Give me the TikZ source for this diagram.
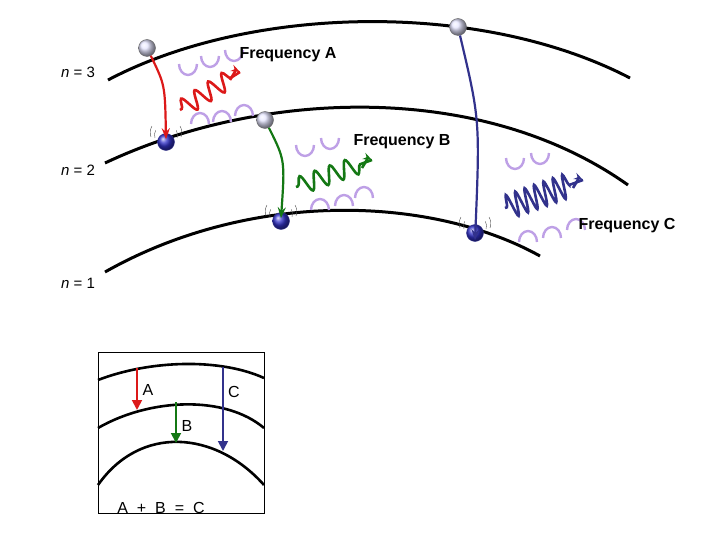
\documentclass[tikz,border=0pt]{standalone}
\usepackage{fontspec}
\setmainfont{Liberation Sans}
\usetikzlibrary{decorations.pathmorphing,arrows.meta}
\definecolor{ared}{RGB}{220,25,25}
\definecolor{agreen}{RGB}{20,120,20}
\definecolor{ablue}{RGB}{50,50,140}
\definecolor{lilac}{RGB}{190,160,230}
\begin{document}
\begin{tikzpicture}[x=1pt,y=-1pt,
  orbit/.style={line width=3pt,black},
  exc/.style={circle,draw=gray!80!black,thin,inner sep=0pt,minimum size=17pt,ball color=blue!10!white,shading=ball},
  gnd/.style={circle,draw=ablue,thin,inner sep=0pt,minimum size=17pt,ball color=blue!60!gray},
  drop/.style={line width=2.2pt,-{Stealth[length=11pt,width=8pt]}},
  wave/.style={line width=2.6pt,decorate,decoration={snake,amplitude=9pt,segment length=16pt,pre length=2pt,post length=10pt}},
  lbl/.style={font=\bfseries\fontsize{16}{18}\selectfont},
  nl/.style={font=\fontsize{15}{17}\selectfont},
  arcu/.style={lilac,line width=2.4pt},
  inset/.style={line width=2.6pt},
  ia/.style={line width=1.8pt,-{Triangle[length=10pt,width=10pt]}},
  il/.style={font=\fontsize{16}{18}\selectfont}]
\useasboundingbox (0,0) rectangle (720,540);
% orbits
\draw[orbit] (108,80) .. controls (250,5) and (480,0) .. (630,78);
\draw[orbit] (105,163) .. controls (260,90) and (480,80) .. (628,185);
\draw[orbit] (105,272) .. controls (250,190) and (430,195) .. (540,256);
\node[nl] (n3) at (78,72) {\textit{n} = 3};
\node[nl] (n2) at (78,170) {\textit{n} = 2};
\node[nl] (n1) at (78,283) {\textit{n} = 1};
% lilac arcs: U above waves
\foreach \cx/\cy in {188/74,210/66,234/60,305/155,330/148,515/168,540/163}{
  \draw[arcu] (\cx-9,\cy-10) arc (180:0:9 and 11);
}
% lilac arcs: cap below waves
\foreach \cx/\cy in {200/120,222/118,244/112,320/206,344/202,364/194,528/238,552/234,576/226}{
  \draw[arcu] (\cx-9,\cy+4) arc (180:360:9 and 11);
}
% electrons
\node[exc] (e3a) at (147,48) {};
\node[exc] (e2b) at (265,120) {};
\node[exc] (e3c) at (458,27) {};
\node[gnd] (g2a) at (166,142) {};
\node[gnd] (g1b) at (281,221) {};
\node[gnd] (g1c) at (475,233) {};
% vibration marks
\foreach \n in {g2a,g1b,g1c}{
  \draw[gray!60!black,thin] ([shift={(-11,-4)}]\n.center) arc (-200:-150:9);
  \draw[gray!60!black,thin] ([shift={(-15,-5)}]\n.center) arc (-200:-150:13);
  \draw[gray!60!black,thin] ([shift={(11,-4)}]\n.center) arc (20:-30:9);
  \draw[gray!60!black,thin] ([shift={(15,-5)}]\n.center) arc (20:-30:13);
}
% drops
\draw[drop,ared] (e3a) .. controls (165,85) .. ([yshift=-6pt]g2a.north);
\draw[drop,agreen] (e2b) .. controls (285,160) .. ([yshift=-6pt]g1b.north);
\draw[drop,ablue] (e3c) .. controls (480,120) .. ([yshift=-16pt]g1c.north);
% photons
\coordinate (pa1) at (180,110); \coordinate (pa2) at (240,72);
\coordinate (pb1) at (296,187); \coordinate (pb2) at (372,160);
\coordinate (pc1) at (505,208); \coordinate (pc2) at (583,180);
\draw[wave,ared] (pa1) -- (pa2);
\draw[ared,line width=2.6pt,-{Stealth[length=9pt]}] ([shift={(-10,8)}]pa2) .. controls ([shift={(-4,-2)}]pa2) .. (pa2);
\draw[wave,agreen] (pb1) -- (pb2);
\draw[agreen,line width=2.6pt,-{Stealth[length=9pt]}] ([shift={(-10,8)}]pb2) .. controls ([shift={(-4,-2)}]pb2) .. (pb2);
\draw[wave,ablue,decoration={snake,amplitude=12pt,segment length=10pt,pre length=2pt,post length=10pt}] (pc1) -- (pc2);
\draw[ablue,line width=2.6pt,-{Stealth[length=9pt]}] ([shift={(-10,8)}]pc2) .. controls ([shift={(-4,-2)}]pc2) .. (pc2);
\node[lbl] (fa) at (288,55) {Frequency A};
\node[lbl] (fb) at (402,142) {Frequency B};
\node[lbl] (fc) at (627,226) {Frequency C};
% inset
\draw[thin] (98,352) rectangle (264,513);
\draw[inset] (98,380) .. controls (150,360) and (220,358) .. (264,378);
\draw[inset] (98,428) .. controls (150,398) and (225,395) .. (264,428);
\draw[inset] (98,485) .. controls (140,425) and (215,430) .. (264,485);
\coordinate (ia1) at (137,368); \coordinate (ia2) at (137,410);
\coordinate (ib1) at (176,402); \coordinate (ib2) at (176,443);
\coordinate (ic1) at (223,367); \coordinate (ic2) at (223,451);
\draw[ia,ared] (ia1) -- (ia2);
\draw[ia,agreen] (ib1) -- (ib2);
\draw[ia,ablue] (ic1) -- (ic2);
\node[il] (la) at (148,390) {A};
\node[il] (lb) at (187,426) {B};
\node[il] (lc) at (234,392) {C};
\node[il] (eq) at (161,508) {A\ \ +\ \ B\ \ =\ \ C};
\end{tikzpicture}
\end{document}
